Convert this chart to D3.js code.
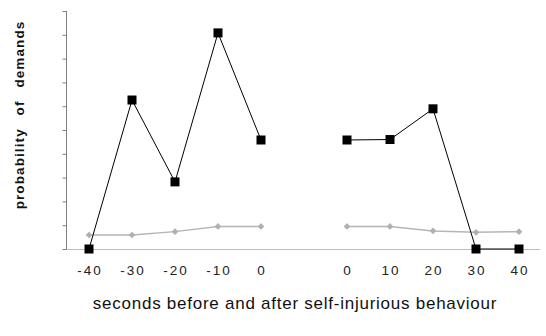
<!DOCTYPE html>
<html>
<head>
<meta charset="utf-8">
<script src="https://cdn.jsdelivr.net/npm/d3@7"></script>
<style>
  body { margin: 0; background: #fff; }
  text { font-family: Arial, "Liberation Sans", sans-serif; }
</style>
</head>
<body>
<script>
// categories: before (-40..0), an empty gap slot, after (0..40)
const slots = ["b-40", "b-30", "b-20", "b-10", "b0", "gap", "a0", "a10", "a20", "a30", "a40"];
const tickLabels = ["-40", "-30", "-20", "-10", "0", "", "0", "10", "20", "30", "40"];

const beforeSlots = ["b-40", "b-30", "b-20", "b-10", "b0"];
const afterSlots = ["a0", "a10", "a20", "a30", "a40"];

const demandsBefore = [0, 0.626, 0.282, 0.908, 0.458];
const demandsAfter = [0.458, 0.46, 0.589, 0, 0];
const baselineBefore = [0.059, 0.059, 0.073, 0.095, 0.095];
const baselineAfter = [0.095, 0.095, 0.076, 0.07, 0.073];

const width = 546, height = 336;
const margin = {left: 66, right: 6, top: 11, bottom: 87};

const svg = d3.select("body").append("svg")
  .attr("width", width)
  .attr("height", height);

const x = d3.scalePoint()
  .domain(slots)
  .range([89, 519]);

const y = d3.scaleLinear()
  .domain([0, 1])
  .range([height - margin.bottom, margin.top]);

// x axis line (light grey)
svg.append("line")
  .attr("x1", margin.left - 3).attr("x2", 540)
  .attr("y1", y(0) + 0.5).attr("y2", y(0) + 0.5)
  .attr("stroke", "#bdbdbd").attr("stroke-width", 1);

// y axis with ticks on the left, no labels
const yAxis = d3.axisLeft(y).ticks(10).tickSize(4).tickFormat("");
const gy = svg.append("g")
  .attr("transform", "translate(" + (margin.left + 0.5) + ",0)")
  .call(yAxis);
gy.select(".domain").attr("stroke", "#808080").attr("d", "M0," + y(1) + "V" + y(0));
gy.selectAll(".tick line").attr("stroke", "#808080");

// x tick labels
svg.append("g")
  .selectAll("text")
  .data(slots)
  .enter()
  .append("text")
  .attr("x", d => x(d) + 1)
  .attr("y", 275)
  .attr("text-anchor", "middle")
  .attr("font-size", 13.5)
  .attr("letter-spacing", "2px")
  .attr("fill", "#222")
  .text((d, i) => tickLabels[i]);

const line = d3.line()
  .x(d => x(d.k))
  .y(d => y(d.v));

function series(keys, vals) {
  return keys.map((k, i) => ({k: k, v: vals[i]}));
}

// baseline (grey) series
[series(beforeSlots, baselineBefore), series(afterSlots, baselineAfter)].forEach(s => {
  svg.append("path")
    .datum(s)
    .attr("d", line)
    .attr("fill", "none")
    .attr("stroke", "#b5b5b5")
    .attr("stroke-width", 1.5);
  svg.selectAll(null)
    .data(s)
    .enter()
    .append("path")
    .attr("d", d3.symbol(d3.symbolDiamond2, 28))
    .attr("transform", d => "translate(" + x(d.k) + "," + y(d.v) + ")")
    .attr("fill", "#b0b0b0");
});

// demands (black) series
[series(beforeSlots, demandsBefore), series(afterSlots, demandsAfter)].forEach(s => {
  svg.append("path")
    .datum(s)
    .attr("d", line)
    .attr("fill", "none")
    .attr("stroke", "#000")
    .attr("stroke-width", 1);
  svg.selectAll(null)
    .data(s)
    .enter()
    .append("rect")
    .attr("x", d => x(d.k) - 4.5)
    .attr("y", d => y(d.v) - 4.5)
    .attr("width", 9)
    .attr("height", 9)
    .attr("fill", "#000");
});

// axis titles
svg.append("text")
  .attr("x", 295)
  .attr("y", 309)
  .attr("text-anchor", "middle")
  .attr("font-size", 17)
  .attr("letter-spacing", "0.75px")
  .attr("fill", "#111")
  .text("seconds before and after self-injurious behaviour");

svg.append("text")
  .attr("transform", "translate(24,115) rotate(-90)")
  .attr("text-anchor", "middle")
  .attr("font-size", 13.5)
  .attr("font-weight", "bold")
  .attr("letter-spacing", "1.1px")
  .attr("word-spacing", "8px")
  .attr("fill", "#111")
  .text("probability of demands");
</script>
</body>
</html>
